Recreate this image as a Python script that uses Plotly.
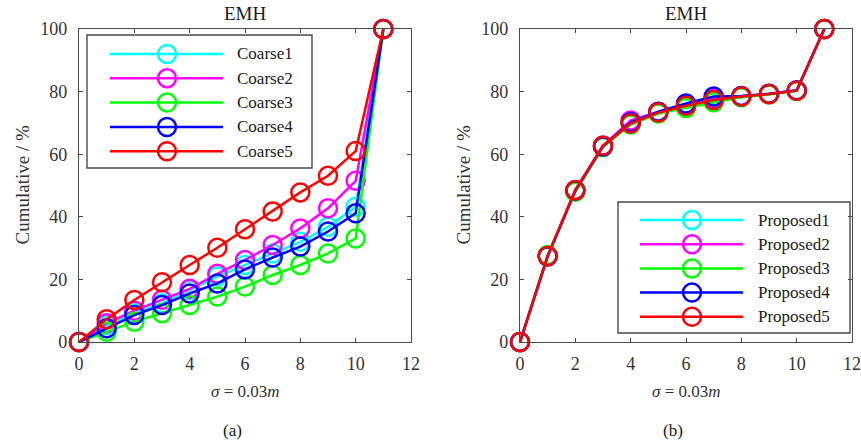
import plotly.graph_objects as go

W, H = 861, 445
FONT = "Liberation Serif"

# Shared abscissa for every series
steps = list(range(12))

# Panel (a): coarse method, cumulative percentage
coarse1 = [0, 5.4, 9.2, 12.4, 16.6, 20.9, 24.6, 28.3, 32.0, 36.8, 43.2, 100]
coarse2 = [0, 6.0, 10.0, 13.5, 17.0, 21.8, 26.2, 31.0, 36.3, 42.7, 51.5, 100]
coarse3 = [0, 3.3, 6.5, 9.2, 11.8, 14.5, 17.7, 21.4, 24.6, 28.3, 33.1, 100]
coarse4 = [0, 4.4, 8.6, 11.8, 15.5, 18.7, 23.2, 27.0, 30.5, 35.3, 41.1, 100]
coarse5 = [0, 7.3, 13.4, 19.1, 24.6, 30.1, 36.0, 41.7, 47.8, 53.1, 61.0, 100]

# Panel (b): proposed method, cumulative percentage
proposed1 = [0, 27.5, 48.5, 62.6, 70.3, 73.4, 75.9, 77.8, 78.5, 79.2, 80.3, 100]
proposed2 = [0, 27.6, 48.6, 62.8, 70.8, 73.5, 75.8, 77.6, 78.5, 79.2, 80.3, 100]
proposed3 = [0, 27.8, 48.0, 62.3, 69.5, 73.0, 74.8, 76.6, 78.2, 79.1, 80.2, 100]
proposed4 = [0, 27.3, 48.4, 62.5, 70.2, 73.6, 76.2, 78.4, 78.6, 79.3, 80.4, 100]
proposed5 = [0, 27.5, 48.5, 62.7, 69.8, 73.3, 75.5, 77.3, 78.4, 79.2, 80.3, 100]

coarse_names = ["Coarse1", "Coarse2", "Coarse3", "Coarse4", "Coarse5"]
proposed_names = ["Proposed1", "Proposed2", "Proposed3", "Proposed4", "Proposed5"]
colors = ["#00ffff", "#ff00ff", "#00ff00", "#0000ff", "#ff0000"]

x_ticks = [0, 2, 4, 6, 8, 10, 12]
y_ticks = [0, 20, 40, 60, 80, 100]
panel_title = "EMH"
y_title = "Cumulative / %"
x_title = "<i>σ</i> = 0.03<i>m</i>"
panel_tags = ["(a)", "(b)"]


def fx(p):
    """Pixel column -> paper fraction."""
    return p / W


def fy(p):
    """Pixel row -> paper fraction."""
    return 1 - p / H


# Plot areas in pixels (left, top, right, bottom)
A = (79, 29, 411, 342)
B = (520, 29, 852, 342)

MS, LW = 18, 2.5

fig = go.Figure()

for ys, name, c in zip([coarse1, coarse2, coarse3, coarse4, coarse5], coarse_names, colors):
    fig.add_trace(go.Scatter(
        x=steps, y=ys, name=name, mode="lines+markers", xaxis="x", yaxis="y",
        line=dict(color=c, width=LW), cliponaxis=False, showlegend=False,
        marker=dict(symbol="circle-open", size=MS, color=c, line=dict(width=LW)),
    ))

for ys, name, c in zip([proposed1, proposed2, proposed3, proposed4, proposed5], proposed_names, colors):
    fig.add_trace(go.Scatter(
        x=steps, y=ys, name=name, mode="lines+markers", xaxis="x2", yaxis="y2",
        line=dict(color=c, width=LW), cliponaxis=False, showlegend=False,
        marker=dict(symbol="circle-open", size=MS, color=c, line=dict(width=LW)),
    ))

# Hand-built legends drawn on a pixel-space overlay axis
legends = [
    dict(names=coarse_names, box=(87, 35, 312, 168), row0=54, dy=24.3,
         line=(110, 223), mark=167, text=235),
    dict(names=proposed_names, box=(618, 202, 850, 333), row0=220, dy=24.2,
         line=(640, 743), mark=692, text=756),
]

shapes = []
annotations = []
for lg in legends:
    x0, y0, x1, y1 = lg["box"]
    shapes.append(dict(type="rect", xref="paper", yref="paper",
                       x0=fx(x0), x1=fx(x1), y0=fy(y1), y1=fy(y0),
                       line=dict(color="#4a4a4a", width=1.4),
                       fillcolor="rgba(0,0,0,0)", layer="below"))
    for i, (name, c) in enumerate(zip(lg["names"], colors)):
        ry = lg["row0"] + i * lg["dy"]
        fig.add_trace(go.Scatter(
            x=list(lg["line"]), y=[ry, ry], mode="lines", xaxis="x3", yaxis="y3",
            line=dict(color=c, width=LW), showlegend=False, hoverinfo="skip"))
        fig.add_trace(go.Scatter(
            x=[lg["mark"]], y=[ry], mode="markers", xaxis="x3", yaxis="y3",
            marker=dict(symbol="circle-open", size=MS, color=c, line=dict(width=LW)),
            showlegend=False, hoverinfo="skip", cliponaxis=False))
        annotations.append(dict(text=name, x=fx(lg["text"]), y=fy(ry), xref="paper", yref="paper",
                                xanchor="left", yanchor="middle", showarrow=False,
                                font=dict(family=FONT, size=17, color="#1a1a1a")))

for (l, t, r, b), tag in zip([A, B], panel_tags):
    cx = (l + r) / 2
    annotations.append(dict(text=panel_title, x=fx(cx), y=fy(13), xref="paper", yref="paper",
                            xanchor="center", yanchor="middle", showarrow=False,
                            font=dict(family=FONT, size=19, color="#1a1a1a")))
    annotations.append(dict(text=y_title, x=fx(l - 57), y=fy((t + b) / 2), xref="paper", yref="paper",
                            xanchor="center", yanchor="middle", textangle=-90, showarrow=False,
                            font=dict(family=FONT, size=19, color="#333333")))
    annotations.append(dict(text=x_title, x=fx(cx), y=fy(391), xref="paper", yref="paper",
                            xanchor="center", yanchor="middle", showarrow=False,
                            font=dict(family=FONT, size=17, color="#333333")))
    annotations.append(dict(text=tag, x=fx(cx - 13), y=fy(430), xref="paper", yref="paper",
                            xanchor="center", yanchor="middle", showarrow=False,
                            font=dict(family=FONT, size=17, color="#1a1a1a")))

axis_common = dict(
    showline=True, linecolor="#4a4a4a", linewidth=1.4, mirror="ticks",
    ticks="inside", ticklen=4, tickcolor="#4a4a4a", tickwidth=1,
    showgrid=False, zeroline=False, automargin=False,
    tickfont=dict(family=FONT, size=18, color="#333333"),
)

fig.update_layout(
    template="none",
    width=W, height=H, margin=dict(l=0, r=0, t=0, b=0, pad=0, autoexpand=False),
    paper_bgcolor="white", plot_bgcolor="rgba(0,0,0,0)",
    xaxis=dict(domain=[fx(A[0]), fx(A[2])], range=[0, 12], tickvals=x_ticks,
               anchor="y", ticklabelstandoff=5, **axis_common),
    yaxis=dict(domain=[fy(A[3]), fy(A[1])], range=[0, 100], tickvals=y_ticks,
               anchor="x", ticklabelstandoff=7, **axis_common),
    xaxis2=dict(domain=[fx(B[0]), fx(B[2])], range=[0, 12], tickvals=x_ticks,
                anchor="y2", ticklabelstandoff=5, **axis_common),
    yaxis2=dict(domain=[fy(B[3]), fy(B[1])], range=[0, 100], tickvals=y_ticks,
                anchor="x2", ticklabelstandoff=7, **axis_common),
    xaxis3=dict(domain=[0, 1], range=[0, W], visible=False, anchor="y3",
                fixedrange=True, automargin=False),
    yaxis3=dict(domain=[0, 1], range=[H, 0], visible=False, anchor="x3",
                fixedrange=True, automargin=False),
    shapes=shapes,
    annotations=annotations,
    showlegend=False,
)

fig.write_html("out.html")
